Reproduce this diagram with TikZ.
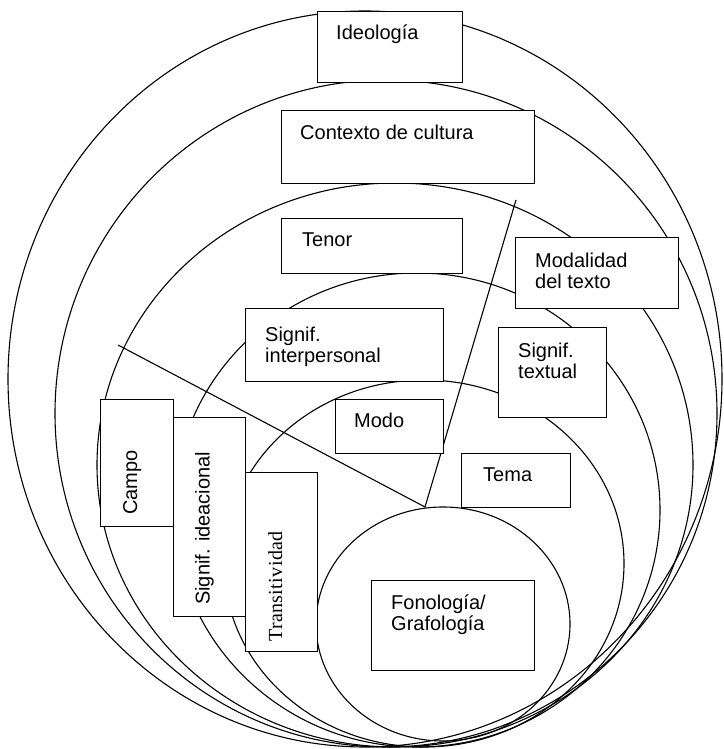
\documentclass[tikz,border=0pt]{standalone}
\usepackage{fontspec}
\setmainfont{Liberation Sans}
\newfontfamily\romana{Liberation Serif}[LetterSpace=2]
\usetikzlibrary{positioning}
\tikzset{
  caja/.style    ={rectangle, draw=black, fill=white, line width=1.1pt,
                   anchor=north west, inner sep=0pt},
  rotulo/.style  ={anchor=north west, align=left, inner sep=0pt,
                   font=\fontsize{20}{21}\selectfont},
  vertical/.style={rotulo, rotate=90},
  orbita/.style  ={draw=black, line width=1.1pt},
}

\begin{document}
\begin{tikzpicture}[x=1pt, y=1pt]
  \useasboundingbox (0,0) rectangle (723,749);
  % estratos
  \foreach \cx/\cy/\rx/\ry in {365/370/357/368, 386/335.5/331/333.5,
      395/284/298/282, 417/239/243/237, 424/185.5/200/183.5, 443/125/127/117}
    \draw[orbita] (\cx,\cy) ellipse [x radius=\rx, y radius=\ry];
  % separadores
  \coordinate (cima)  at (425,242);
  \coordinate (izq)   at (118,404);
  \coordinate (der)   at (516,549);
  \draw[orbita] (izq) -- (cima) -- (der);
  % cajas
  \node[caja, minimum width=145pt, minimum height=71pt]  (ideo)    at (317,738) {};
  \node[caja, minimum width=253pt, minimum height=73pt]  (cultura) at (281,639) {};
  \node[caja, minimum width=181pt, minimum height=55pt]  (tenor)   at (281,531) {};
  \node[caja, minimum width=163pt, minimum height=71pt]  (modal)   at (515,512) {};
  \node[caja, minimum width=198pt, minimum height=73pt]  (interp)  at (245,441) {};
  \node[caja, minimum width=108pt, minimum height=90pt]  (textual) at (498,422) {};
  \node[caja, minimum width=108pt, minimum height=54pt]  (modo)    at (335,350) {};
  \node[caja, minimum width=109pt, minimum height=54pt]  (tema)    at (461,296) {};
  \node[caja, minimum width=73pt,  minimum height=127pt] (campo)   at (100,350) {};
  \node[caja, minimum width=72pt,  minimum height=199pt] (ideac)   at (173,332) {};
  \node[caja, minimum width=72pt,  minimum height=179pt] (trans)   at (245,277) {};
  \node[caja, minimum width=163pt, minimum height=90pt]  (fono)    at (371,169) {};
  % textos
  \node[rotulo, below right=14pt and 19pt of ideo.north west]    (tIdeo)    {Ideología};
  \node[rotulo, below right=15pt and 19pt of cultura.north west] (tCultura) {Contexto de cultura};
  \node[rotulo, below right=15pt and 21pt of tenor.north west]   (tTenor)   {Tenor};
  \node[rotulo, below right=16pt and 20pt of modal.north west]   (tModal)   {Modalidad\\del texto};
  \node[rotulo, below right=19pt and 20pt of interp.north west]  (tInterp)  {Signif.\\interpersonal};
  \node[rotulo, below right=16pt and 20pt of textual.north west] (tTextual) {Signif.\\textual};
  \node[rotulo, below right=14pt and 19pt of modo.north west]    (tModo)    {Modo};
  \node[rotulo, below right=15pt and 22pt of tema.north west]    (tTema)    {Tema};
  \node[rotulo, below right=15pt and 20pt of fono.north west]    (tFono)    {Fonología/\\Grafología};
  \node[vertical, above right=12pt and 23pt of campo.south west, anchor=north west] (tCampo) {Campo};
  \node[vertical, above right=12pt and 22pt of ideac.south west, anchor=north west] (tIdeac) {Signif. ideacional};
  \node[vertical, above right=10pt and 23pt of trans.south west, anchor=north west,
        font=\romana\fontsize{20}{21}\selectfont] (tTrans) {Transitividad};
\end{tikzpicture}
\end{document}
